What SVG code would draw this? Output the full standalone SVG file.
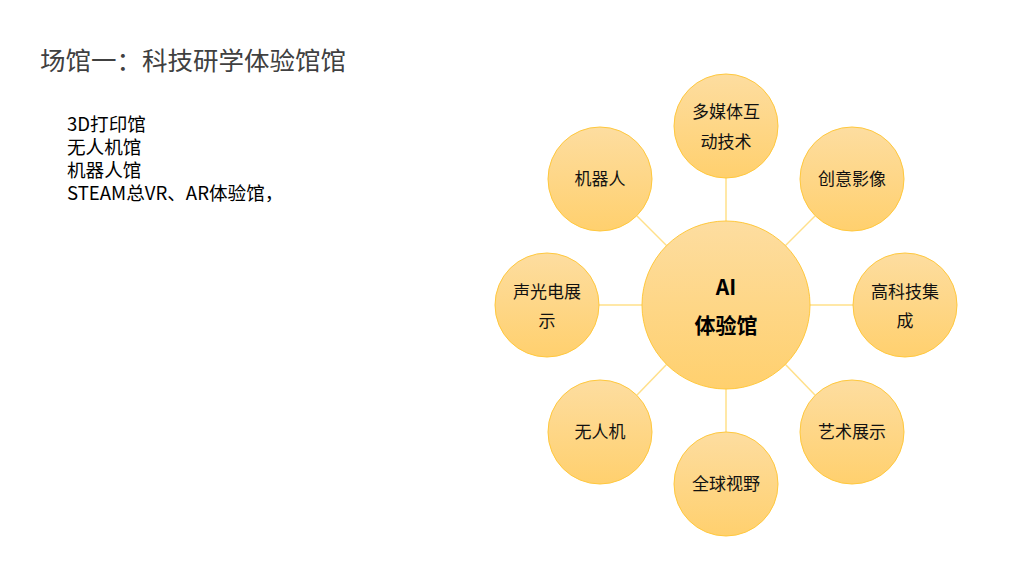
<svg xmlns="http://www.w3.org/2000/svg" width="1024" height="576" viewBox="0 0 1024 576">
<defs>
<linearGradient id="g" x1="0" y1="0" x2="0" y2="1">
<stop offset="0" stop-color="#FDDDA0"/>
<stop offset="1" stop-color="#FFD06E"/>
</linearGradient>
<style>
.n{fill:url(#g);stroke:#FFC83D;stroke-width:1}
.t{font-family:"Microsoft YaHei","Noto Sans CJK SC",sans-serif;font-size:17px;fill:#111;text-anchor:middle}
.c{font-family:"Microsoft YaHei","Noto Sans CJK SC",sans-serif;font-size:21px;font-weight:bold;fill:#000;text-anchor:middle}
.l{font-family:"Microsoft YaHei","Noto Sans CJK SC",sans-serif;font-size:18.6px;fill:#000}
.e{stroke:#FFE08A;stroke-width:1.5;fill:none}
</style>
</defs>
<rect width="1024" height="576" fill="#fff"/>
<text x="40" y="70" font-family="'Microsoft YaHei','Noto Sans CJK SC',sans-serif" font-size="25.5" fill="#404040">场馆一：科技研学体验馆馆</text>
<g id="list">
<text class="l" x="67" y="131">3D打印馆</text>
<text class="l" x="67" y="154">无人机馆</text>
<text class="l" x="67" y="177">机器人馆</text>
<text class="l" x="67" y="200">STEAM总VR、AR体验馆，</text>
</g>
<g id="connectors">
<line class="e" x1="726" y1="221" x2="726" y2="178"/>
<line class="e" x1="667" y1="246" x2="637" y2="216"/>
<line class="e" x1="785" y1="246" x2="815" y2="216"/>
<line class="e" x1="642" y1="305" x2="599" y2="305"/>
<line class="e" x1="810" y1="305" x2="853" y2="305"/>
<line class="e" x1="667" y1="364" x2="637" y2="395"/>
<line class="e" x1="785" y1="364" x2="815" y2="395"/>
<line class="e" x1="726" y1="389" x2="726" y2="432"/>
</g>
<g id="center"><circle class="n" cx="726" cy="305" r="84"/><text class="c" x="726" y="295">AI</text><text class="c" x="726" y="333">体验馆</text></g>
<g id="n1"><circle class="n" cx="726" cy="126" r="52"/><text class="t" x="726" y="118">多媒体互</text><text class="t" x="726" y="148">动技术</text></g>
<g id="n2"><circle class="n" cx="600" cy="179" r="52"/><text class="t" x="600" y="185">机器人</text></g>
<g id="n3"><circle class="n" cx="852" cy="179" r="52"/><text class="t" x="852" y="185">创意影像</text></g>
<g id="n4"><circle class="n" cx="547" cy="305" r="52"/><text class="t" x="547" y="298">声光电展</text><text class="t" x="547" y="327">示</text></g>
<g id="n5"><circle class="n" cx="905" cy="305" r="52"/><text class="t" x="905" y="298">高科技集</text><text class="t" x="905" y="327">成</text></g>
<g id="n6"><circle class="n" cx="600" cy="432" r="52"/><text class="t" x="600" y="438">无人机</text></g>
<g id="n7"><circle class="n" cx="852" cy="432" r="52"/><text class="t" x="852" y="438">艺术展示</text></g>
<g id="n8"><circle class="n" cx="726" cy="484" r="52"/><text class="t" x="726" y="490">全球视野</text></g>
</svg>
